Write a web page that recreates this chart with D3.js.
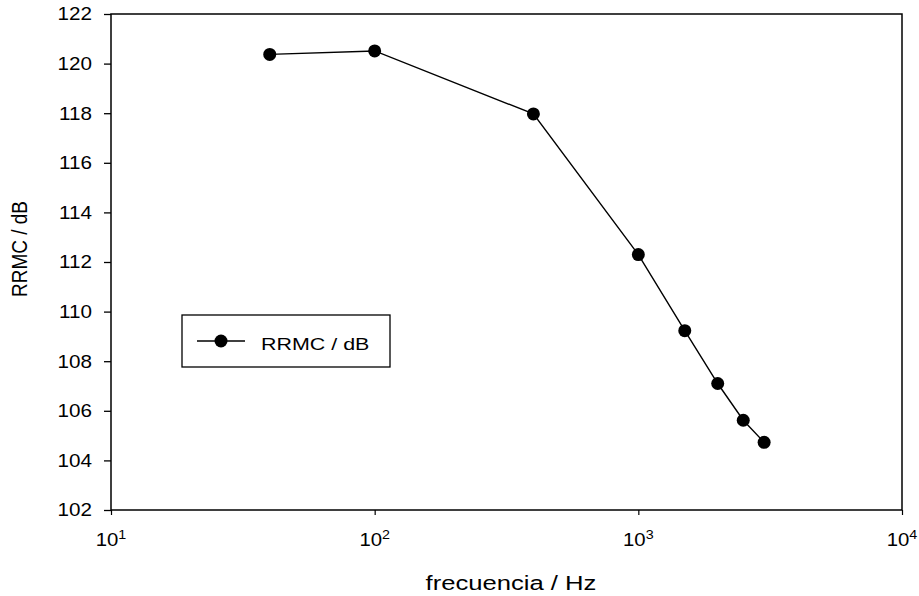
<!DOCTYPE html>
<html><head><meta charset="utf-8">
<script src="https://cdn.jsdelivr.net/npm/d3@7"></script>
<style>body{margin:0;background:#fff}text{font-family:"Liberation Sans",Arial,sans-serif;fill:#000}</style>
</head><body><svg id="c" width="919" height="596"></svg>
<script>
const freq = [40, 100, 400, 1000, 1500, 2000, 2500, 3000];
const rrmc = [120.37, 120.51, 117.97, 112.30, 109.23, 107.10, 105.62, 104.73];
const yTicks = [102, 104, 106, 108, 110, 112, 114, 116, 118, 120, 122];
const xTicks = [10, 100, 1000, 10000];
const xTickExp = ["1", "2", "3", "4"];
const seriesName = "RRMC / dB";
const xTitle = "frecuencia / Hz";
const yTitle = "RRMC / dB";

const svg = d3.select("#c");
const L = 111, R = 902, T = 14, B = 510;
const x = d3.scaleLog().domain([10, 10000]).range([L, R]);
const y = d3.scaleLinear().domain([102, 122]).range([B, T]);

// frame
svg.append("rect").attr("x", L).attr("y", T).attr("width", R - L).attr("height", B - T)
  .attr("fill", "none").attr("stroke", "#000").attr("stroke-width", 1.5);

// y axis
const ya = svg.append("g").attr("transform", `translate(${L},0)`)
  .call(d3.axisLeft(y).tickValues(yTicks).tickSize(7).tickPadding(0).tickFormat(d3.format("d")));
ya.select(".domain").remove();
ya.selectAll("line").attr("stroke", "#000").attr("stroke-width", 1.3);
ya.selectAll("text").remove();
yTicks.forEach(v => {
  svg.append("text").attr("transform", `translate(92,${y(v) + 6.3}) scale(1.18,1)`)
    .attr("text-anchor", "end").attr("font-size", 17.5).text(v);
});

// x axis
const xa = svg.append("g").attr("transform", `translate(0,${B})`)
  .call(d3.axisBottom(x).tickValues(xTicks).tickSize(5).tickFormat(""));
xa.select(".domain").remove();
xa.selectAll("line").attr("stroke", "#000").attr("stroke-width", 1.2);
xTicks.forEach((v, i) => {
  const t = svg.append("text").attr("transform", `translate(${x(v)},546) scale(1.1,1)`)
    .attr("text-anchor", "middle").attr("font-size", 18.5);
  t.append("tspan").text("10");
  t.append("tspan").attr("font-size", 13).attr("dy", -7).text(xTickExp[i]);
});

// titles
svg.append("text").attr("transform", `translate(511,590) scale(1.25,1)`)
  .attr("text-anchor", "middle").attr("font-size", 20.5).text(xTitle);
svg.append("text").attr("transform", `translate(27,249) rotate(-90) scale(1,1.18)`)
  .attr("text-anchor", "middle").attr("font-size", 19).text(yTitle);

// series
const pts = freq.map((f, i) => [f, rrmc[i]]);
svg.append("path").datum(pts)
  .attr("d", d3.line().x(d => x(d[0])).y(d => y(d[1])))
  .attr("fill", "none").attr("stroke", "#000").attr("stroke-width", 1.4);
svg.selectAll("circle.pt").data(pts).enter().append("circle").attr("class", "pt")
  .attr("cx", d => x(d[0])).attr("cy", d => y(d[1])).attr("r", 6.5).attr("fill", "#000");

// legend
const lg = svg.append("g");
lg.append("rect").attr("x", 182).attr("y", 315).attr("width", 208).attr("height", 52)
  .attr("fill", "#fff").attr("stroke", "#000").attr("stroke-width", 1.3);
lg.append("line").attr("x1", 197).attr("x2", 245).attr("y1", 341).attr("y2", 341)
  .attr("stroke", "#000").attr("stroke-width", 1.3);
lg.append("circle").attr("cx", 221).attr("cy", 341).attr("r", 6.5).attr("fill", "#000");
lg.append("text").attr("transform", `translate(261,350) scale(1.3,1)`)
  .attr("font-size", 16.5).text(seriesName);
</script></body></html>
